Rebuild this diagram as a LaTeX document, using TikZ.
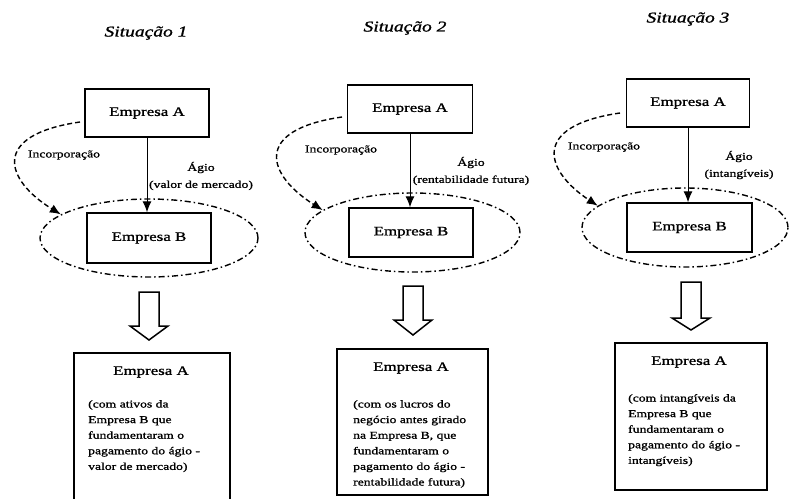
\documentclass[tikz,border=0pt]{standalone}
\usepackage{fontspec}
\setmainfont[FakeStretch=1.3,FakeBold=1.2]{Liberation Serif}
\usetikzlibrary{arrows.meta,shapes.geometric}
\begin{document}
\begin{tikzpicture}[x=1pt,y=-1pt,
 box/.style={draw,line width=1.4pt,inner sep=0pt,font=\fontsize{13}{15}\selectfont},
 bigbox/.style={draw,line width=1.6pt,inner sep=0pt},
 ell/.style={draw,ellipse,line width=1.4pt,inner sep=0pt,dash pattern=on 6pt off 3pt on 1.5pt off 3pt},
 ttl/.style={font=\fontsize{15}{18}\selectfont\itshape,inner sep=0pt},
 lab/.style={font=\fontsize{10.5}{12}\selectfont,inner sep=0pt},
 aglab/.style={font=\fontsize{10.5}{17}\selectfont,inner sep=0pt,align=center},
 head/.style={font=\fontsize{13}{15}\selectfont,inner sep=0pt},
 body/.style={font=\fontsize{10.5}{15.6}\selectfont,align=left,inner sep=0pt,anchor=north west},
 agio/.style={line width=1pt,-{Latex[length=11pt,width=9pt]}},
 inc/.style={line width=1.4pt,dash pattern=on 5pt off 3pt,-{Latex[length=11pt,width=9pt]}},
 hollow/.style={draw,line width=1.5pt,fill=white,line join=miter},
]
\useasboundingbox (0,0) rectangle (792,498);

% ---------- Situacao 1 ----------
\node[ttl] (t1) at (146,33) {Situação 1};
\node[box,minimum width=124pt,minimum height=48pt] (A1) at (147,113) {Empresa A};
\node[ell,minimum width=218pt,minimum height=78pt] (E1) at (149,238) {};
\node[box,minimum width=124pt,minimum height=50pt] (B1) at (149,238) {Empresa B};
\draw[agio] (A1.south) -- (A1.south |- B1.north);
\node[aglab] (g1) at (201,176) {Ágio\\(valor de mercado)};
\coordinate (s1) at (80,122);
\draw[inc] (s1) .. controls (-10,135) and (5,180) .. (E1.165);
\node[lab] (i1) at (64,155) {Incorporação};
\draw[hollow] (139,292) -- (159,292) -- (159,326) -- (168,326) -- (149,340) -- (130,326) -- (139,326) -- cycle;
\node[bigbox,minimum width=156pt,minimum height=157pt] (C1) at (152,431.5) {};
\node[head] (h1) at (151,372) {Empresa A};
\node[body] (b1) at (88,400) {(com ativos da\\Empresa B que\\fundamentaram o\\pagamento do ágio -\\valor de mercado)};

% ---------- Situacao 2 ----------
\node[ttl] (t2) at (405,28) {Situação 2};
\node[box,minimum width=125pt,minimum height=48pt] (A2) at (410,109) {Empresa A};
\node[ell,minimum width=215pt,minimum height=79pt] (E2) at (412.5,232.5) {};
\node[box,minimum width=124pt,minimum height=49pt] (B2) at (411,232.5) {Empresa B};
\draw[agio] (A2.south) -- (A2.south |- B2.north);
\node[aglab] (g2) at (471,171) {Ágio\\(rentabilidade futura)};
\coordinate (s2) at (342,117);
\draw[inc] (s2) .. controls (252,130) and (267,175) .. (E2.166);
\node[lab] (i2) at (341,150) {Incorporação};
\draw[hollow] (403,286) -- (423,286) -- (423,320) -- (432,320) -- (413,335) -- (394,320) -- (403,320) -- cycle;
\node[bigbox,minimum width=151pt,minimum height=146pt] (C2) at (412.5,422) {};
\node[head] (h2) at (411,368) {Empresa A};
\node[body] (b2) at (353,400) {(com os lucros do\\negócio antes girado\\na Empresa B, que\\fundamentaram o\\pagamento do ágio -\\rentabilidade futura)};

% ---------- Situacao 3 ----------
\node[ttl] (t3) at (688,19) {Situação 3};
\node[box,minimum width=123pt,minimum height=48pt] (A3) at (688,103) {Empresa A};
\node[ell,minimum width=206pt,minimum height=79pt] (E3) at (685,227.5) {};
\node[box,minimum width=125pt,minimum height=49pt] (B3) at (689.5,227.5) {Empresa B};
\draw[agio] (A3.south) -- (A3.south |- B3.north);
\node[aglab] (g3) at (739,165) {Ágio\\(intangíveis)};
\coordinate (s3) at (620,113);
\draw[inc] (s3) .. controls (530,126) and (545,171) .. (E3.166);
\node[lab] (i3) at (604,147) {Incorporação};
\draw[hollow] (681,282) -- (701,282) -- (701,318) -- (710,318) -- (691,330) -- (672,318) -- (681,318) -- cycle;
\node[bigbox,minimum width=152pt,minimum height=147pt] (C3) at (691,416.5) {};
\node[head] (h3) at (689,362) {Empresa A};
\node[body] (b3) at (628,394) {(com intangíveis da\\Empresa B que\\fundamentaram o\\pagamento do ágio -\\intangíveis)};
\end{tikzpicture}
\end{document}
